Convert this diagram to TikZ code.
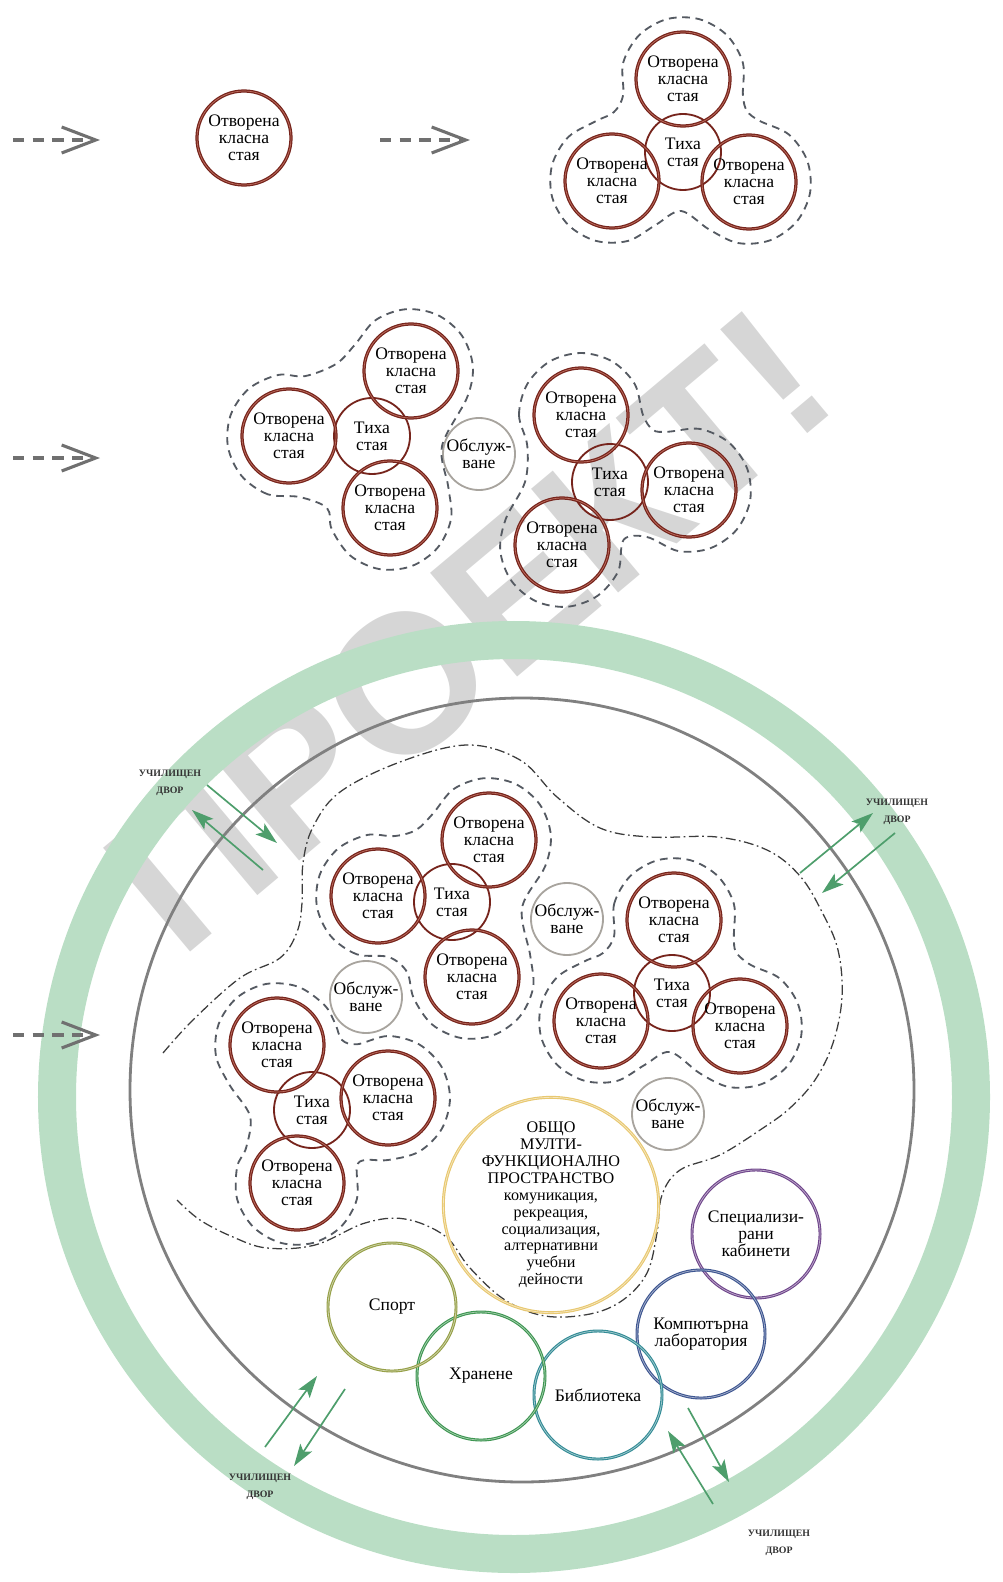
\documentclass[tikz,border=0pt]{standalone}
\usepackage{fontspec}
\setmainfont{Liberation Serif}
\newfontfamily\stampfont{Liberation Sans}
\usetikzlibrary{arrows.meta,calc}

\definecolor{roomred}{RGB}{118,36,28}
\definecolor{roomlight}{RGB}{190,110,95}
\definecolor{servgrey}{RGB}{168,164,158}
\definecolor{zonegrey}{RGB}{85,90,98}
\definecolor{hallgrey}{RGB}{60,60,60}
\definecolor{flowgrey}{RGB}{112,112,112}
\definecolor{yardgreen}{RGB}{186,222,197}
\definecolor{yardarrow}{RGB}{78,158,108}
\definecolor{wallgrey}{RGB}{128,128,128}
\definecolor{commonyellow}{RGB}{232,200,112}
\definecolor{specpurple}{RGB}{112,70,140}
\definecolor{compblue}{RGB}{62,86,145}
\definecolor{libteal}{RGB}{52,140,150}
\definecolor{foodgreen}{RGB}{62,150,82}
\definecolor{sportolive}{RGB}{150,160,72}
\definecolor{stampgrey}{RGB}{214,214,214}

\newcommand\roomfont{\fontsize{12.5}{12}\selectfont}
\newcommand\yardfont{\fontsize{7}{12.5}\selectfont\bfseries}
\newcommand\openroom{Отворена\\класна\\стая}

\tikzset{
  room/.style={circle, draw=roomred, line width=0.9pt, double=roomlight, double distance=0.5pt,
    minimum size=2.35cm, inner sep=0pt, align=center, font=\roomfont},
  quiet/.style={circle, draw=roomred, line width=1.3pt, minimum size=1.9cm, inner sep=0pt,
    align=center, font=\roomfont},
  service/.style={circle, draw=servgrey, line width=1.3pt, minimum size=1.8cm, inner sep=0pt,
    align=center, font=\roomfont},
  unit/.style={circle, draw=#1, line width=0.8pt, double=#1!45, double distance=0.5pt,
    minimum size=3.2cm, inner sep=0pt, align=center, font=\roomfont},
  zone/.style={draw=zonegrey, line width=1.3pt, dash pattern=on 5.5pt off 4pt},
  hall/.style={draw=hallgrey, line width=0.9pt, dash pattern=on 7pt off 2.5pt on 1.2pt off 2.5pt},
  flow/.style={draw=flowgrey, line width=2.8pt, dash pattern=on 8pt off 6pt,
    -{Straight Barb[length=0.85cm,width=0.65cm,line width=2.2pt]}},
  yard/.style={draw=yardarrow, line width=1.2pt, -{Stealth[length=0.55cm,width=0.35cm,inset=0.12cm]}},
  yardlabel/.style={font=\yardfont, text=black!80, align=center, inner sep=0pt},
  stamp/.style={rotate=40, text=stampgrey, inner sep=0pt, anchor=base west,
    font=\stampfont\bfseries\fontsize{140}{140}\selectfont},
}

\begin{document}
\begin{tikzpicture}[x=0.025cm, y=-0.025cm]
\useasboundingbox (0,0) rectangle (1003,1582);

% watermark, letter by letter
\node[stamp] (mk1) at (180,961) {П};
\foreach \ch [count=\i from 2, remember=\i as \j (initially 1)] in {Р,О,Е,К,Т,!}
  \node[stamp] (mk\i) at (mk\j.base east) {\ch};

% school yard and building wall
\coordinate (yardc) at (514,1097);
\coordinate (wallc) at (522,1090);
\draw[yardgreen, line width=0.95cm] (yardc) circle (457);
\draw[wallgrey, line width=2pt] (wallc) circle (392);

% growth arrows
\coordinate (f1a) at (13,140);  \coordinate (f1b) at (100,140);
\coordinate (f2a) at (380,140); \coordinate (f2b) at (470,140);
\coordinate (f3a) at (13,458);  \coordinate (f3b) at (100,458);
\coordinate (f4a) at (13,1035); \coordinate (f4b) at (100,1035);
\draw[flow] (f1a) -- (f1b);
\draw[flow] (f2a) -- (f2b);
\draw[flow] (f3a) -- (f3b);
\draw[flow] (f4a) -- (f4b);

% step 1
\node[room] (r1) at (244,138) {\openroom};

% step 2
\node[quiet] (t0) at (683,152) {Тиха\\стая};
\node[room] (t1) at (683,79) {\openroom};
\node[room] (t2) at (612,181) {\openroom};
\node[room] (t3) at (749,182) {\openroom};
\draw[zone] plot[smooth cycle, tension=0.55] coordinates {
  ($(t1)+(165:62)$) ($(t1)+(195:62)$) ($(t1)+(225:62)$) ($(t1)+(255:62)$)
  ($(t1)+(285:62)$) ($(t1)+(315:62)$) ($(t1)+(345:62)$) ($(t1)+(15:62)$)
  ($(t0)+(64,-41)$)
  ($(t3)+(280:62)$) ($(t3)+(310:62)$) ($(t3)+(340:62)$) ($(t3)+(10:62)$)
  ($(t3)+(40:62)$) ($(t3)+(70:62)$) ($(t3)+(100:62)$) ($(t3)+(130:62)$)
  ($(t0)+(-2,59)$)
  ($(t2)+(45:62)$) ($(t2)+(75:62)$) ($(t2)+(105:62)$) ($(t2)+(135:62)$)
  ($(t2)+(165:62)$) ($(t2)+(195:62)$) ($(t2)+(225:62)$) ($(t2)+(255:62)$)
  ($(t0)+(-69,-40)$)};

% step 3
\node[quiet] (l0) at (372,436) {Тиха\\стая};
\node[room] (l1) at (289,436) {\openroom};
\node[room] (l2) at (411,371) {\openroom};
\node[room] (l3) at (390,508) {\openroom};
\node[service] (s1) at (479,454) {Обслуж-\\ване};
\node[quiet] (m0) at (610,482) {Тиха\\стая};
\node[room] (m1) at (581,415) {\openroom};
\node[room] (m2) at (689,490) {\openroom};
\node[room] (m3) at (562,545) {\openroom};
\draw[zone] plot[smooth cycle, tension=0.55] coordinates {
  ($(l1)+(80:62)$) ($(l1)+(110:62)$) ($(l1)+(140:62)$) ($(l1)+(170:62)$)
  ($(l1)+(200:62)$) ($(l1)+(230:62)$) ($(l1)+(260:62)$) ($(l1)+(285:62)$)
  ($(l0)+(-36,-72)$)
  ($(l2)+(205:62)$) ($(l2)+(235:62)$) ($(l2)+(265:62)$) ($(l2)+(295:62)$)
  ($(l2)+(325:62)$) ($(l2)+(355:62)$) ($(l2)+(25:62)$)
  ($(l0)+(70,10)$)
  ($(l3)+(340:62)$) ($(l3)+(10:62)$) ($(l3)+(40:62)$) ($(l3)+(70:62)$)
  ($(l3)+(100:62)$) ($(l3)+(130:62)$) ($(l3)+(160:62)$)
  ($(l0)+(-45,72)$)};
\draw[zone] plot[smooth cycle, tension=0.55] coordinates {
  ($(m1)+(150:62)$) ($(m1)+(180:62)$) ($(m1)+(210:62)$) ($(m1)+(240:62)$)
  ($(m1)+(270:62)$) ($(m1)+(300:62)$) ($(m1)+(330:62)$) ($(m1)+(0:62)$)
  ($(m0)+(43,-52)$)
  ($(m2)+(250:62)$) ($(m2)+(280:62)$) ($(m2)+(310:62)$) ($(m2)+(340:62)$)
  ($(m2)+(10:62)$) ($(m2)+(40:62)$) ($(m2)+(70:62)$) ($(m2)+(100:62)$)
  ($(m0)+(37,55)$)
  ($(m3)+(355:62)$) ($(m3)+(25:62)$) ($(m3)+(55:62)$) ($(m3)+(85:62)$)
  ($(m3)+(115:62)$) ($(m3)+(145:62)$) ($(m3)+(175:62)$) ($(m3)+(205:62)$)
  ($(m0)+(-85,0)$)};

% step 4: the whole school
\draw[hall] plot[smooth, tension=0.6] coordinates {(163,1053) (193,1020) (240,978)
  (280,958) (297,932) (302,903) (303,863) (313,827) (340,792) (400,762) (467,745)
  (520,760) (557,797) (600,828) (650,837) (717,837) (767,850) (800,876) (822,912)
  (838,950) (842,997) (833,1043) (815,1080) (790,1108) (763,1128) (720,1155)
  (680,1170) (662,1195) (657,1233) (647,1273) (623,1300) (590,1314) (545,1316)
  (505,1300) (470,1268) (445,1236) (405,1219) (365,1223) (315,1245) (267,1248)
  (233,1237) (200,1220) (177,1200)};

\node[quiet] (a0) at (452,902) {Тиха\\стая};
\node[room] (a1) at (378,896) {\openroom};
\node[room] (a2) at (489,840) {\openroom};
\node[room] (a3) at (472,977) {\openroom};
\draw[zone] plot[smooth cycle, tension=0.55] coordinates {
  ($(a1)+(80:62)$) ($(a1)+(110:62)$) ($(a1)+(140:62)$) ($(a1)+(170:62)$)
  ($(a1)+(200:62)$) ($(a1)+(230:62)$) ($(a1)+(260:62)$) ($(a1)+(285:62)$)
  ($(a0)+(-36,-72)$)
  ($(a2)+(205:62)$) ($(a2)+(235:62)$) ($(a2)+(265:62)$) ($(a2)+(295:62)$)
  ($(a2)+(325:62)$) ($(a2)+(355:62)$) ($(a2)+(25:62)$)
  ($(a0)+(70,6)$)
  ($(a3)+(340:62)$) ($(a3)+(10:62)$) ($(a3)+(40:62)$) ($(a3)+(70:62)$)
  ($(a3)+(100:62)$) ($(a3)+(130:62)$) ($(a3)+(160:62)$)
  ($(a0)+(-45,70)$)};

\node[quiet] (b0) at (672,993) {Тиха\\стая};
\node[room] (b1) at (674,920) {\openroom};
\node[room] (b2) at (601,1021) {\openroom};
\node[room] (b3) at (740,1026) {\openroom};
\draw[zone] plot[smooth cycle, tension=0.55] coordinates {
  ($(b1)+(165:62)$) ($(b1)+(195:62)$) ($(b1)+(225:62)$) ($(b1)+(255:62)$)
  ($(b1)+(285:62)$) ($(b1)+(315:62)$) ($(b1)+(345:62)$) ($(b1)+(15:62)$)
  ($(b0)+(64,-41)$)
  ($(b3)+(280:62)$) ($(b3)+(310:62)$) ($(b3)+(340:62)$) ($(b3)+(10:62)$)
  ($(b3)+(40:62)$) ($(b3)+(70:62)$) ($(b3)+(100:62)$) ($(b3)+(130:62)$)
  ($(b0)+(-2,59)$)
  ($(b2)+(45:62)$) ($(b2)+(75:62)$) ($(b2)+(105:62)$) ($(b2)+(135:62)$)
  ($(b2)+(165:62)$) ($(b2)+(195:62)$) ($(b2)+(225:62)$) ($(b2)+(255:62)$)
  ($(b0)+(-69,-40)$)};

\node[quiet] (w0) at (312,1110) {Тиха\\стая};
\node[room] (w1) at (277,1045) {\openroom};
\node[room] (w2) at (388,1098) {\openroom};
\node[room] (w3) at (297,1183) {\openroom};
\draw[zone] plot[smooth cycle, tension=0.55] coordinates {
  ($(w1)+(140:62)$) ($(w1)+(170:62)$) ($(w1)+(200:62)$) ($(w1)+(230:62)$)
  ($(w1)+(260:62)$) ($(w1)+(290:62)$) ($(w1)+(320:62)$) ($(w1)+(340:62)$)
  ($(w0)+(30,-70)$)
  ($(w2)+(240:62)$) ($(w2)+(270:62)$) ($(w2)+(300:62)$) ($(w2)+(330:62)$)
  ($(w2)+(0:62)$) ($(w2)+(30:62)$) ($(w2)+(60:62)$) ($(w2)+(90:62)$)
  ($(w0)+(53,50)$)
  ($(w3)+(345:62)$) ($(w3)+(15:62)$) ($(w3)+(45:62)$) ($(w3)+(75:62)$)
  ($(w3)+(105:62)$) ($(w3)+(135:62)$) ($(w3)+(165:62)$) ($(w3)+(195:62)$)
  ($(w3)+(215:62)$)
  ($(w0)+(-62,6)$)};

\node[service] (s2) at (567,919) {Обслуж-\\ване};
\node[service] (s3) at (366,997) {Обслуж-\\ване};
\node[service] (s4) at (668,1114) {Обслуж-\\ване};

\node[unit=commonyellow, minimum size=4.5cm, font=\fontsize{11.5}{12}\selectfont] (common) at (551,1205)
  {ОБЩО\\МУЛТИ-\\ФУНКЦИОНАЛНО\\ПРОСТРАНСТВО\\комуникация,\\рекреация,\\социализация,\\алтернативни\\учебни\\дейности};
\node[unit=specpurple] (spec) at (756,1234) {Специализи-\\рани\\кабинети};
\node[unit=compblue] (comp) at (701,1334) {Компютърна\\лаборатория};
\node[unit=libteal] (lib) at (598,1395) {Библиотека};
\node[unit=foodgreen] (food) at (481,1376) {Хранене};
\node[unit=sportolive] (sport) at (392,1307) {Спорт};

% links to the school yard
\coordinate (y1a) at (207,785); \coordinate (y1b) at (277,843);
\coordinate (y2a) at (263,870); \coordinate (y2b) at (192,810);
\coordinate (y3a) at (800,873); \coordinate (y3b) at (873,813);
\coordinate (y4a) at (895,833); \coordinate (y4b) at (822,893);
\coordinate (y5a) at (265,1447); \coordinate (y5b) at (317,1376);
\coordinate (y6a) at (345,1389); \coordinate (y6b) at (294,1466);
\coordinate (y7a) at (713,1504); \coordinate (y7b) at (668,1431);
\coordinate (y8a) at (688,1408); \coordinate (y8b) at (729,1482);
\draw[yard] (y1a) -- (y1b);
\draw[yard] (y2a) -- (y2b);
\draw[yard] (y3a) -- (y3b);
\draw[yard] (y4a) -- (y4b);
\draw[yard] (y5a) -- (y5b);
\draw[yard] (y6a) -- (y6b);
\draw[yard] (y7a) -- (y7b);
\draw[yard] (y8a) -- (y8b);

\node[yardlabel] (yd1) at (170,783) {УЧИЛИЩЕН\\ДВОР};
\node[yardlabel] (yd2) at (897,812) {УЧИЛИЩЕН\\ДВОР};
\node[yardlabel] (yd3) at (260,1487) {УЧИЛИЩЕН\\ДВОР};
\node[yardlabel] (yd4) at (779,1543) {УЧИЛИЩЕН\\ДВОР};
\end{tikzpicture}
\end{document}
